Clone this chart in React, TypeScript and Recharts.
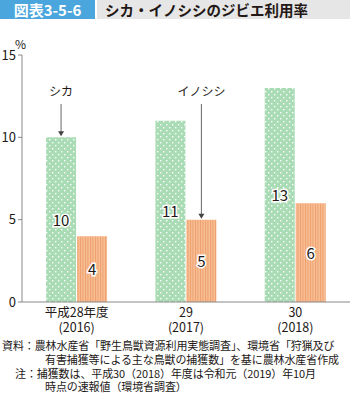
import React from 'react';
import { BarChart, Bar, XAxis, YAxis, LabelList } from 'recharts';

const years = ['平成28年度', '29', '30'];
const westernYears = ['(2016)', '(2017)', '(2018)'];
const deerRate = [10, 11, 13];
const boarRate = [4, 5, 6];
const yTicks = [0, 5, 10, 15];

const data = years.map((y, i) => ({ year: y, western: westernYears[i], deer: deerRate[i], boar: boarRate[i] }));

const FONT = '"Noto Sans CJK JP", "Noto Sans", sans-serif';

const XTick = (props: any) => {
  const { x, y, payload, index } = props;
  return (
    <text x={x} y={y + 7} textAnchor="middle" fontSize={12.5} fill="#231815" fontFamily={FONT}>
      <tspan x={x}>{payload.value}</tspan>
      <tspan x={x} dy={15}>{westernYears[index]}</tspan>
    </text>
  );
};

const ValueLabel = (props: any) => {
  const { x, y, width, height, value } = props;
  return (
    <text x={x + width / 2} y={y + height / 2 + 6} textAnchor="middle" fontSize={15} fontFamily={FONT}
      fill="#231815" stroke="#fff" strokeWidth={3} paintOrder="stroke">{value}</text>
  );
};

// callout with arrow pointing at the top of one bar
const callout = (name: string, idx: number, textY: number) => (props: any) => {
  const { x, y, width, index } = props;
  if (index !== idx) return null;
  const cx = x + width / 2;
  return (
    <g>
      <text x={cx} y={textY} textAnchor="middle" fontSize={12} fill="#231815" fontFamily={FONT}>{name}</text>
      <line x1={cx} y1={textY + 8} x2={cx} y2={y - 5} stroke="#666" strokeWidth={1} />
      <path d={`M${cx - 3},${y - 6} L${cx + 3},${y - 6} L${cx},${y - 1} Z`} fill="#444" />
    </g>
  );
};

export default function App() {
  return (
    <div style={{ position: 'relative', width: 350, height: 395, background: '#fff', fontFamily: FONT, color: '#231815', overflow: 'hidden' }}>
      <style>{'body{margin:0}'}</style>
      <div style={{ position: 'absolute', left: 0, top: 0, width: 95, height: 19, background: '#4aa6dc', color: '#fff', fontSize: 15, fontWeight: 'bold', lineHeight: '19px', textAlign: 'center' }}>図表3-5-6</div>
      <div style={{ position: 'absolute', left: 97, top: 0, width: 253, height: 19, background: '#e6e6e6', fontSize: 14.5, fontWeight: 'bold', lineHeight: '19px', paddingLeft: 8, boxSizing: 'border-box' }}>シカ・イノシシのジビエ利用率</div>
      <div style={{ position: 'absolute', left: 15, top: 35, fontSize: 12 }}>%</div>
      <div style={{ position: 'absolute', left: 0, top: 0 }}>
        <BarChart width={350} height={395} data={data} margin={{ top: 55, right: 0, bottom: 0, left: 0 }} barGap={1} barCategoryGap="22%">
          <defs>
            <pattern id="dots" width="6" height="6" patternUnits="userSpaceOnUse">
              <rect width="6" height="6" fill="#a9dbb5" />
              <rect x="1" y="1" width="1.4" height="1.4" fill="#fff" />
              <rect x="4" y="4" width="1.4" height="1.4" fill="#fff" />
            </pattern>
            <pattern id="stripes" width="2.5" height="4" patternUnits="userSpaceOnUse">
              <rect width="2.5" height="4" fill="#f7bd93" />
              <rect width="0.9" height="4" fill="#ee9e6c" />
            </pattern>
          </defs>
          <XAxis dataKey="year" tick={<XTick />} tickLine={false} axisLine={{ stroke: '#888' }} interval={0} height={93} />
          <YAxis domain={[0, 15]} ticks={yTicks} width={22} tickSize={4} tickLine={{ stroke: '#888' }} axisLine={{ stroke: '#888' }}
            tick={{ fontSize: 13, fill: '#231815', fontFamily: FONT }} tickMargin={2} />
          <Bar dataKey="deer" fill="url(#dots)" isAnimationActive={false}>
            <LabelList dataKey="deer" content={<ValueLabel />} />
            <LabelList dataKey="deer" content={callout('シカ', 0, 96)} />
          </Bar>
          <Bar dataKey="boar" fill="url(#stripes)" isAnimationActive={false}>
            <LabelList dataKey="boar" content={<ValueLabel />} />
            <LabelList dataKey="boar" content={callout('イノシシ', 1, 96)} />
          </Bar>
        </BarChart>
      </div>
      <div style={{ position: 'absolute', left: 2, top: 339, fontSize: 11, lineHeight: '13.8px', whiteSpace: 'nowrap', letterSpacing: -0.1 }}>
        <div>資料：農林水産省「野生鳥獣資源利用実態調査」、環境省「狩猟及び</div>
        <div style={{ paddingLeft: 43 }}>有害捕獲等による主な鳥獣の捕獲数」を基に農林水産省作成</div>
        <div style={{ paddingLeft: 13 }}>注：捕獲数は、平成30（2018）年度は令和元（2019）年10月</div>
        <div style={{ paddingLeft: 43 }}>時点の速報値（環境省調査）</div>
      </div>
    </div>
  );
}
